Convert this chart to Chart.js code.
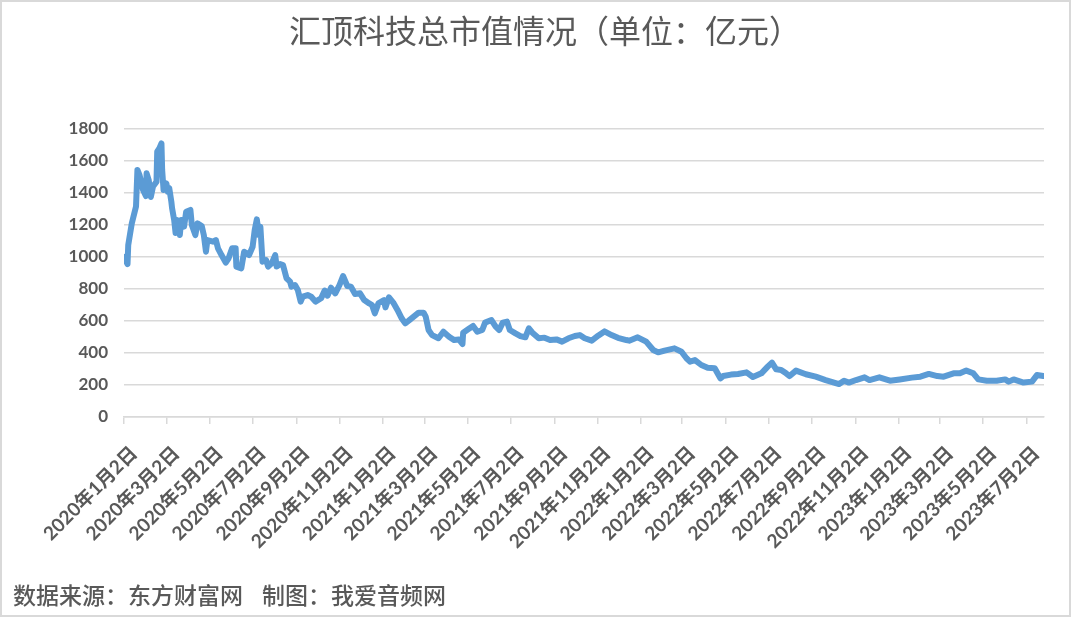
<!DOCTYPE html>
<html>
<head>
<meta charset="utf-8">
<script src="https://cdn.jsdelivr.net/npm/chart.js@4"></script>
<style>
  body { margin: 0; background: #fff; }
  #wrap { width: 1071px; height: 617px; position: relative; }
</style>
</head>
<body>
<div id="wrap"><canvas id="cap-chart" width="1071" height="617"></canvas></div>
<script>
const chartTitle = "汇顶科技总市值情况（单位：亿元）";
const sourceNote = "数据来源：东方财富网";
const makerNote = "制图：我爱音频网";

const baseDate = "2020-01-02";
const endDate = "2023-07-27";

const tickDates = [
  "2020-01-02", "2020-03-02", "2020-05-02", "2020-07-02", "2020-09-02", "2020-11-02",
  "2021-01-02", "2021-03-02", "2021-05-02", "2021-07-02", "2021-09-02", "2021-11-02",
  "2022-01-02", "2022-03-02", "2022-05-02", "2022-07-02", "2022-09-02", "2022-11-02",
  "2023-01-02", "2023-03-02", "2023-05-02", "2023-07-02"
];

const yTicks = [0, 200, 400, 600, 800, 1000, 1200, 1400, 1600, 1800];

// 日期
const dates = [
  "2020-01-02","2020-01-07","2020-01-08","2020-01-13","2020-01-19","2020-01-21","2020-01-24","2020-01-29",
  "2020-02-02","2020-02-03","2020-02-06","2020-02-09","2020-02-12","2020-02-17","2020-02-18","2020-02-21",
  "2020-02-24","2020-02-25","2020-02-27","2020-03-02","2020-03-04","2020-03-06","2020-03-09","2020-03-10",
  "2020-03-13","2020-03-15","2020-03-17","2020-03-21","2020-03-23","2020-03-27","2020-03-30","2020-04-05",
  "2020-04-07","2020-04-12","2020-04-15","2020-04-21","2020-04-24","2020-04-27","2020-04-29","2020-05-07",
  "2020-05-11","2020-05-14","2020-05-19","2020-05-25","2020-05-29","2020-06-03","2020-06-08","2020-06-09",
  "2020-06-16","2020-06-20","2020-06-27","2020-07-02","2020-07-05","2020-07-08","2020-07-11","2020-07-13",
  "2020-07-16","2020-07-21","2020-07-24","2020-07-29","2020-08-03","2020-08-05","2020-08-10","2020-08-14",
  "2020-08-19","2020-08-24","2020-08-26","2020-08-31","2020-09-04","2020-09-08","2020-09-11","2020-09-18",
  "2020-09-23","2020-09-29","2020-10-07","2020-10-12","2020-10-16","2020-10-21","2020-10-27","2020-11-02",
  "2020-11-07","2020-11-13","2020-11-18","2020-11-24","2020-12-01","2020-12-07","2020-12-14","2020-12-18",
  "2020-12-22","2020-12-27","2021-01-04","2021-01-06","2021-01-11","2021-01-17","2021-01-23","2021-01-29",
  "2021-02-03","2021-02-08","2021-02-15","2021-02-22","2021-03-01","2021-03-04","2021-03-08","2021-03-13",
  "2021-03-22","2021-03-29","2021-04-06","2021-04-13","2021-04-20","2021-04-25","2021-04-26","2021-05-03",
  "2021-05-10","2021-05-16","2021-05-23","2021-05-27","2021-06-05","2021-06-11","2021-06-16","2021-06-21",
  "2021-06-27","2021-07-01","2021-07-09","2021-07-16","2021-07-23","2021-07-28","2021-08-02","2021-08-11",
  "2021-08-19","2021-08-27","2021-09-05","2021-09-13","2021-09-22","2021-10-01","2021-10-08","2021-10-15",
  "2021-10-25","2021-11-03","2021-11-12","2021-11-22","2021-12-01","2021-12-13","2021-12-17","2021-12-29",
  "2022-01-10","2022-01-20","2022-01-27","2022-02-05","2022-02-19","2022-03-01","2022-03-08","2022-03-13",
  "2022-03-20","2022-03-29","2022-04-07","2022-04-17","2022-04-25","2022-04-29","2022-05-10","2022-05-20",
  "2022-06-01","2022-06-10","2022-06-22","2022-07-01","2022-07-07","2022-07-13","2022-07-20","2022-07-27",
  "2022-08-01","2022-08-10","2022-08-24","2022-09-07","2022-09-21","2022-10-10","2022-10-17","2022-10-24",
  "2022-11-03","2022-11-15","2022-11-22","2022-12-06","2022-12-21","2023-01-04","2023-01-21","2023-02-02",
  "2023-02-14","2023-02-26","2023-03-07","2023-03-21","2023-03-30","2023-04-08","2023-04-18","2023-04-25",
  "2023-05-07","2023-05-21","2023-06-02","2023-06-07","2023-06-14","2023-06-28","2023-07-10","2023-07-17",
  "2023-07-26"
];

// 总市值（亿元，读图估计）
const marketCap = [
  1000, 956, 1075, 1210, 1315, 1544, 1512, 1419,
  1381, 1523, 1481, 1375, 1440, 1471, 1658, 1679,
  1710, 1544, 1419, 1460, 1408, 1431, 1346, 1306,
  1231, 1150, 1231, 1137, 1231, 1190, 1283, 1294,
  1200, 1137, 1210, 1194, 1137, 1033, 1106, 1096,
  1106, 1054, 1012, 965, 992, 1054, 1054, 940,
  929, 1033, 1012, 1064, 1169, 1235, 1137, 1190,
  971, 981, 940, 960, 1012, 940, 956, 950,
  867, 846, 815, 825, 794, 721, 752, 762,
  752, 721, 742, 790, 758, 808, 773, 825,
  881, 819, 815, 769, 773, 731, 710, 700,
  648, 710, 731, 685, 748, 715, 669, 617,
  585, 602, 627, 652, 652, 627, 544, 512,
  492, 533, 502, 481, 485, 456, 527, 548,
  569, 533, 544, 590, 606, 565, 544, 590,
  596, 544, 523, 506, 498, 554, 527, 492,
  496, 481, 485, 471, 492, 506, 512, 492,
  477, 508, 535, 512, 495, 481, 477, 498,
  471, 419, 404, 415, 429, 408, 367, 346,
  356, 325, 308, 304, 242, 256, 265, 269,
  279, 250, 273, 315, 340, 298, 294, 273,
  256, 290, 267, 252, 231, 206, 227, 215,
  231, 248, 231, 248, 227, 235, 246, 252,
  269, 256, 252, 273, 273, 290, 273, 235,
  227, 227, 235, 221, 235, 215, 221, 262,
  256
];

const DAY = 86400000;
function toDay(s)
{
    let p = s.split('-').map(Number);
    let b = baseDate.split('-').map(Number);
    return Math.round((Date.UTC(p[0], p[1] - 1, p[2]) - Date.UTC(b[0], b[1] - 1, b[2])) / DAY);
}

function dayLabel(day)
{
    let b = baseDate.split('-').map(Number);
    let d = new Date(Date.UTC(b[0], b[1] - 1, b[2]) + day * DAY);
    return d.getUTCFullYear() + "年" + (d.getUTCMonth() + 1) + "月" + d.getUTCDate() + "日";
}

const points = dates.map((d, i) => ({ x: toDay(d), y: marketCap[i] }));
const tickDays = tickDates.map(toDay);

const textGrey = "#595959";
const gridGrey = "#d9d9d9";
const latinFont = 'Lato, "Noto Sans CJK SC", sans-serif';

const frameAndNotes = {
    id: 'frameAndNotes',
    afterDraw(chart) {
        let ctx = chart.ctx;
        ctx.save();
        ctx.strokeStyle = gridGrey;
        ctx.lineWidth = 2;
        ctx.strokeRect(1, 1, chart.width - 2, chart.height - 2);

        ctx.fillStyle = textGrey;
        ctx.textBaseline = 'middle';
        ctx.textAlign = 'center';
        ctx.font = '32px "Noto Sans CJK SC"';
        ctx.fillText(chartTitle, 545, 31);

        ctx.textAlign = 'left';
        ctx.font = '500 23px "Noto Sans CJK SC"';
        ctx.fillText(sourceNote, 13, 595);
        ctx.fillText(makerNote, 262, 595);
        ctx.restore();
    }
};

new Chart(document.getElementById("cap-chart"), {
    type: 'line',
    data: {
        datasets: [{
            data: points,
            borderColor: "#5B9BD5",
            borderWidth: 6,
            pointRadius: 0,
            tension: 0,
            borderJoinStyle: 'round',
            borderCapStyle: 'round'
        }]
    },
    options: {
        responsive: false,
        animation: false,
        layout: { padding: { top: 129, right: 27, bottom: 0, left: 0 } },
        plugins: {
            legend: { display: false },
            tooltip: { enabled: false },
            title: { display: false }
        },
        scales: {
            x: {
                type: 'linear',
                min: 0,
                max: toDay(endDate),
                afterFit: (scale) => { scale.height = 200; },
                afterBuildTicks: (scale) => { scale.ticks = tickDays.map(v => ({ value: v })); },
                grid: {
                    drawOnChartArea: false,
                    drawTicks: true,
                    tickLength: 7,
                    color: gridGrey,
                    lineWidth: 1.5
                },
                border: { display: true, color: gridGrey, width: 1.5 },
                ticks: {
                    autoSkip: false,
                    maxRotation: 45,
                    minRotation: 45,
                    padding: 18,
                    labelOffset: 10,
                    color: textGrey,
                    font: { family: latinFont, size: 19, weight: 'bold' },
                    callback: (v) => dayLabel(v)
                }
            },
            y: {
                min: 0,
                max: 1800,
                afterFit: (scale) => { scale.width = 124; },
                afterBuildTicks: (scale) => { scale.ticks = yTicks.map(v => ({ value: v })); },
                grid: { color: gridGrey, lineWidth: 1.5, drawTicks: false },
                border: { display: false },
                ticks: {
                    padding: 16,
                    color: textGrey,
                    font: { family: latinFont, size: 17, weight: 'bold' },
                    callback: (v) => String(v)
                }
            }
        }
    },
    plugins: [frameAndNotes]
});
</script>
</body>
</html>
